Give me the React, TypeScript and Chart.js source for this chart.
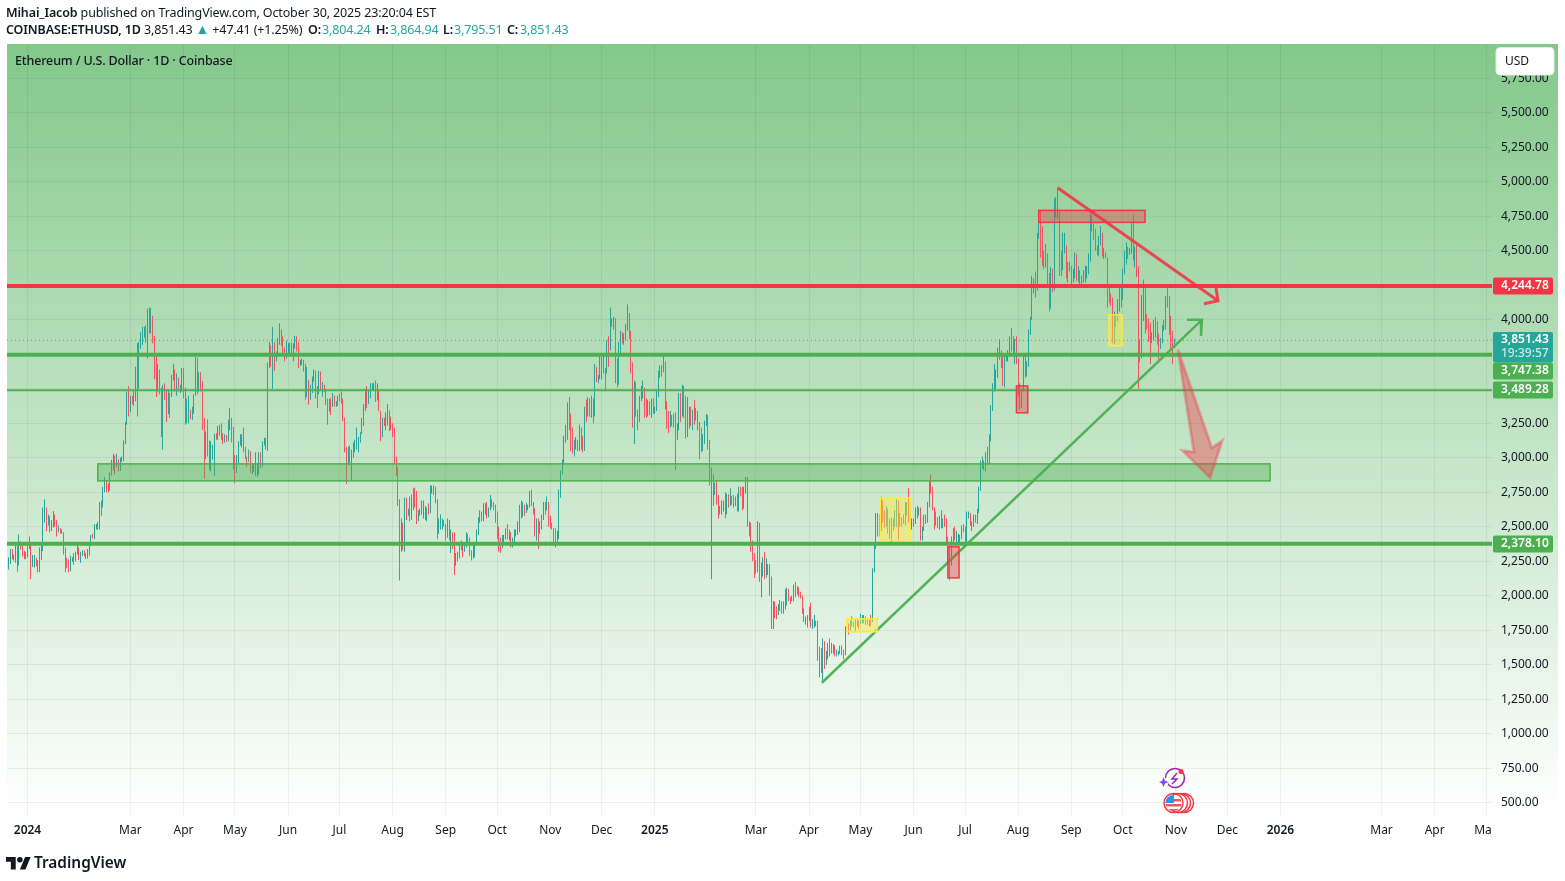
import React, { useEffect, useRef } from "react";
import { Chart, registerables } from "chart.js";

Chart.register(...registerables);

const FONT = '"Noto Sans", sans-serif';
const FIRST_DAY = -12;
const FIRST_OPEN = 2180;

// Daily closes, Dec 20 2023 to Oct 31 2025
const closes = [
  2200,2240,2325,2265,2270,2380,2230,2380,2345,2300,2290,2280,
  2350,2355,2210,2270,2270, 2240,2220,2330,2340,2585, 2620,2525,2575,2470,2510, 2585,2530,2465,2490,2470, 2455,2310,2240,2235,2220, 2265,2265,2255,2315,2345,2285,
  2305,2310,2300,2290,2300, 2375,2425,2420,2485,2500, 2505,2660,2645,2780,2825, 2800,2785,2880,2945,3015, 2970,2970,2925,2990,2990, 3115,3245,3385,3340,
  3435,3420,3490,3630,3550, 3815,3870,3885,3915,3880, 4065,3980,4005,3880,3740, 3520,3640,3510,3160,3515, 3490,3335,3460,3450,3590, 3590,3500,3560,3510,3510,3650,
  3500,3280,3310,3330,3310, 3350,3455,3690,3505,3545, 3500,3240,3010,3155,3105, 2985,3060,3065,3155,3150, 3200,3200,3140,3130,3155, 3130,3250,3260,3215,3010,
  2970,2990,3100,3120,3135, 3060,3005,2975,3035,2910, 2910,2930,2950,2880,3035, 2945,3095,3120,3070,3660, 3790,3740,3780,3725,3750, 3825,3890,3840,3765,3745,3760,
  3815,3780,3765,3810,3865, 3810,3680,3685,3705,3665, 3500,3560,3470,3480,3565, 3620,3510,3485,3560,3515, 3520,3490,3420,3360,3395, 3370,3450,3375,3380,3440,
  3430,3420,3290,3060,3000, 3065,3000,3015,3065,3100, 3100,3130,3180,3245,3360, 3440,3420,3480,3505,3520, 3540,3440,3480,3340,3175, 3275,3250,3270,3320,3280, 3230,
  3200,2990,2900,2690,2420, 2460,2340,2680,2600,2610, 2560,2720,2700,2660,2570, 2590,2610,2610,2640,2570, 2630,2620,2770,2770,2750, 2680,2460,2530,2530,2530, 2510,
  2430,2540,2420,2450,2370, 2220,2270,2300,2360,2390, 2340,2360,2440,2420,2320, 2300,2340,2370,2460,2560, 2610,2580,2650,2650,2580, 2630,2690,2680,2660,2600,
  2450,2360,2350,2410,2410, 2440,2420,2440,2370,2390, 2440,2470,2470,2630,2610, 2610,2605,2650,2650,2750, 2670,2620,2530,2540,2460, 2510,2560,2640,2630,2660, 2520,
  2515,2490,2460,2400,2425, 2720,2895,2960,3130,3180, 3370,3250,3190,3060,3110, 3130,3080,3210,3105,3070, 3355,3330,3395,3360,3415, 3325,3655,3585,3595,3705,
  3710,3640,3615,3835,3790, 3995,3995,4010,3715,3630, 3835,3885,3870,3870,3960, 3985,3890,3620,3410,3480, 3330,3280,3420,3490,3490, 3335,3330,3400,3350,3355, 3335,
  3355,3450,3610,3655,3640, 3690,3380,3325,3220,3290, 3285,3265,3140,3220,3450, 3310,3470,3310,3215,3280, 3325,3240,3340,3310,3320, 3235,3180,3080,3110,3250, 3300,
  3120,2870,2880,2730,2785, 2690,2620,2630,2660,2660, 2600,2735,2680,2725,2690, 2660,2690,2630,2770,2735, 2660,2770,2820,2510,2490, 2400,2310,2240,
  2220,2520,2150,2170,2240, 2140,2200,2200,2020,1860, 1920,1910,1860,1910,1940, 1890,1930,1930,2050,1980, 1970,1980,2080,2010,2060, 2010,2000,1900,1825,1825, 1820,
  1905,1795,1815,1815,1785, 1580,1555,1470,1665,1520, 1565,1645,1595,1590,1590, 1580,1585,1590,1610,1585, 1575,1755,1795,1770,1790, 1790,1795,1800,1800,1795,
  1840,1840,1835,1810,1820, 1815,1810,2190,2350,2580, 2510,2490,2680,2610,2550, 2610,2480,2490,2530,2525, 2550,2665,2525,2530,2550, 2560,2655,2680,2630,2530,2530,
  2530,2610,2590,2610,2415, 2480,2570,2540,2660,2815, 2770,2640,2575,2540,2535, 2545,2510,2525,2520,2405, 2290,2225,2410,2450,2415, 2420,2425,2435,2500,2485,
  2405,2570,2585,2510,2515, 2570,2540,2615,2770,2950, 2960,2940,2975,3010,3140, 3370,3480,3550,3590,3760, 3760,3745,3625,3710,3740, 3745,3875,3795,3790,3810, 3700,
  3490,3410,3490,3720,3610, 3680,3910,4010,4260,4270, 4225,4590,4750,4550,4440, 4420,4470,4310,4080,4360, 4220,4830,4775,4780,4380, 4370,4500,4510,4360,4370, 4390,
  4310,4325,4450,4300,4310, 4275,4305,4305,4310,4350, 4450,4715,4665,4605,4525, 4500,4590,4590,4470,4480, 4450,4200,4160,4150,3880, 4030,4010,4140,4220,4145,
  4350,4490,4515,4490,4515, 4690,4450,4525,4370,3835, 3750,4160,4250,3990,3980, 3890,3830,3890,3980,3890, 3880,3790,3855,3935,3950, 4160,4120,3980,3905,3804, 3851.43,
];

const highs = [
  2235,2280,2340,2340,2300,2310,2280,2445,2395,2365,2325,2320,
  2360,2430,2385,2295,2295, 2275,2260,2350,2370,2640, 2700,2640,2590,2575,2550, 2615,2590,2550,2510,2490, 2480,2460,2350,2275,2265, 2290,2280,2310,2320,2390,2350,
  2320,2330,2330,2310,2340, 2390,2440,2450,2520,2520, 2535,2680,2690,2790,2860, 2835,2815,2895,2985,3030, 3015,3030,2990,3000,3010, 3125,3260,3480,3520,
  3450,3450,3490,3660,3830, 3840,3910,3950,3950,3960, 4080,4090,4085,4030,3880, 3650,3680,3610,3500,3530, 3540,3490,3490,3470,3600, 3680,3640,3610,3580,3530,3650,
  3650,3510,3430,3450,3350, 3370,3460,3730,3725,3620, 3620,3555,3290,3190,3280, 3125,3120,3095,3175,3180, 3230,3240,3250,3180,3170, 3165,3275,3360,3290,3225,
  3020,3020,3120,3170,3170, 3220,3080,3010,3060,3050, 2950,2960,3040,2955,3040, 3040,3120,3145,3145,3690, 3840,3815,3950,3840,3770, 3870,3975,3930,3880,3800,3850,
  3830,3835,3835,3830,3885, 3880,3840,3710,3720,3710, 3680,3660,3560,3530,3590, 3640,3630,3520,3630,3625, 3550,3530,3500,3430,3430, 3430,3470,3450,3410,3450,
  3465,3480,3430,3290,3080, 3080,3090,3060,3110,3130, 3220,3150,3185,3290,3390, 3500,3520,3490,3540,3540, 3540,3560,3540,3490,3340, 3290,3290,3330,3390,3345, 3300,
  3250,3220,3010,2930,2700, 2560,2530,2710,2710,2630, 2720,2735,2780,2785,2760, 2620,2630,2690,2690,2650, 2640,2670,2800,2800,2800, 2790,2700,2560,2590,2560, 2550,
  2520,2560,2550,2480,2460, 2460,2310,2320,2370,2400, 2390,2380,2460,2450,2420, 2330,2390,2375,2480,2570, 2620,2600,2670,2670,2680, 2640,2730,2700,2680,2660,
  2610,2500,2420,2440,2440, 2490,2520,2480,2460,2420, 2480,2480,2540,2660,2690, 2680,2660,2675,2660,2760, 2770,2680,2635,2560,2560, 2540,2590,2680,2680,2720, 2680,
  2580,2530,2490,2490,2470, 2770,2910,2990,3160,3240, 3400,3440,3320,3220,3130, 3150,3130,3240,3220,3160, 3370,3420,3440,3430,3450, 3430,3680,3660,3600,3740,
  3730,3760,3650,3850,3880, 4090,4010,4020,4010,3720, 3840,3920,3910,3900,3970, 4110,4050,3920,3690,3560, 3550,3350,3450,3520,3560, 3510,3430,3420,3410,3430, 3430,
  3370,3490,3630,3670,3670, 3740,3700,3410,3340,3340, 3310,3320,3330,3250,3470, 3470,3530,3520,3450,3440, 3370,3370,3350,3420,3360, 3340,3260,3220,3170,3270, 3320,
  3310,3130,2930,2880,2820, 2830,2730,2650,2690,2690, 2750,2740,2720,2780,2720, 2730,2720,2740,2790,2790, 2790,2790,2860,2860,2540, 2530,2360,2290,
  2260,2540,2530,2240,2280, 2320,2270,2230,2230,2140, 1960,1960,1925,1940,1970, 1960,1960,2050,2060,2010, 1990,2000,2080,2100,2070, 2060,2030,2000,1910,1850, 1860,
  1920,1950,1830,1860,1820, 1820,1630,1620,1690,1670, 1600,1660,1690,1660,1650, 1640,1610,1600,1640,1640, 1610,1780,1810,1800,1820, 1850,1810,1830,1840,1820,
  1870,1860,1860,1850,1840, 1830,1860,2200,2390,2600, 2600,2590,2720,2690,2620, 2650,2630,2560,2570,2560, 2620,2700,2690,2600,2570, 2590,2680,2680,2780,2640,2560,
  2560,2640,2650,2640,2640, 2500,2590,2590,2680,2830, 2880,2790,2640,2610,2570, 2580,2620,2560,2590,2560, 2430,2350,2430,2490,2500, 2470,2450,2440,2510,2520,
  2500,2610,2610,2600,2540, 2590,2590,2630,2790,2980, 3010,2980,3040,3080,3170, 3380,3540,3680,3640,3800, 3860,3780,3740,3760,3760, 3780,3880,3940,3880,3860, 3880,
  3720,3540,3500,3750,3750, 3700,3930,4020,4320,4300, 4350,4630,4780,4790,4680, 4500,4550,4480,4340,4380, 4370,4880,4890,4950,4800, 4500,4630,4630,4540,4420, 4420,
  4390,4370,4490,4480,4390, 4360,4320,4360,4390,4390, 4480,4770,4760,4700,4660, 4540,4610,4680,4630,4520, 4490,4450,4230,4190,4160, 4060,4040,4150,4240,4230,
  4370,4500,4560,4530,4520, 4700,4760,4530,4540,4390, 3860,4180,4290,4210,4040, 4010,3980,3910,4000,4020, 3990,3900,3870,3960,4000, 4170,4250,4170,4030,3920, 3864.94,
];

const lows = [
  2150,2190,2230,2270,2255,2240,2175,2220,2335,2285,2265,2265,
  2280,2340,2120,2210,2205, 2215,2170,2170,2260,2325, 2530,2470,2510,2460,2490, 2495,2500,2430,2460,2450, 2450,2300,2170,2200,2170, 2180,2245,2225,2250,2300,2260,
  2240,2290,2285,2265,2270, 2290,2360,2415,2410,2480, 2480,2480,2580,2640,2750, 2750,2750,2760,2870,2910, 2880,2930,2900,2905,2970, 2975,3100,3240,3300,
  3330,3390,3375,3410,3300, 3500,3790,3820,3870,3835, 3720,3900,3900,3830,3570, 3440,3480,3460,3150,3060, 3420,3260,3315,3290,3440, 3560,3480,3450,3480,3470,3480,
  3430,3240,3250,3250,3280, 3275,3320,3450,3460,3480, 3480,3200,2850,2990,3010, 2915,2900,2985,2870,3130, 3130,3160,3130,3100,3110, 3115,3120,3200,3110,2915,
  2815,2890,2960,3090,3075, 3040,2990,2935,2970,2890, 2880,2895,2870,2860,2880, 2925,2935,3090,3060,3050, 3650,3660,3500,3630,3700, 3730,3820,3810,3750,3700,3720,
  3745,3755,3750,3700,3790, 3770,3650,3665,3675,3625, 3420,3440,3385,3420,3470, 3550,3430,3360,3460,3490, 3445,3475,3380,3240,3335, 3310,3370,3370,3370,3375,
  3410,3390,3265,3040,2810, 2960,2945,2840,3000,3040, 3060,3040,3110,3175,3230, 3340,3360,3390,3430,3490, 3485,3405,3415,3340,3120, 3150,3230,3200,3235,3195, 3200,
  3150,2960,2870,2650,2110, 2320,2330,2320,2550,2580, 2540,2550,2620,2640,2520, 2540,2580,2590,2560,2550, 2540,2590,2600,2740,2730, 2670,2410,2450,2480,2480, 2500,
  2400,2420,2400,2310,2340, 2150,2220,2250,2270,2330, 2280,2320,2350,2390,2290, 2255,2270,2280,2370,2440, 2530,2540,2540,2590,2560, 2570,2620,2640,2620,2530,
  2410,2320,2310,2350,2390, 2410,2410,2400,2350,2350, 2380,2430,2440,2460,2560, 2570,2580,2600,2620,2640, 2650,2590,2430,2400,2340, 2450,2480,2550,2590,2620, 2500,
  2490,2480,2360,2350,2390, 2410,2710,2880,2950,3110, 3130,3200,3050,3030,3010, 3060,3050,3050,3060,3040, 3050,3260,3300,3300,3290, 3250,3300,3550,3540,3570,
  3570,3610,3480,3610,3660, 3780,3950,3930,3540,3510, 3530,3760,3830,3820,3850, 3920,3860,3610,3220,3100, 3300,3200,3260,3410,3430, 3290,3290,3300,3310,3290, 3320,
  3320,3340,3440,3580,3590, 3620,3350,3210,3180,3220, 3230,3220,2910,3130,3200, 3260,3300,3290,3140,3150, 3210,3230,3200,3240,3270, 3200,2990,3040,3050,3100, 3230,
  3060,2800,2120,2650,2730, 2660,2560,2590,2590,2610, 2560,2590,2640,2650,2660, 2640,2650,2610,2610,2720, 2620,2630,2740,2500,2430, 2320,2250,2130,
  2160,2170,2100,1990,2140, 2120,2130,2150,2000,1760, 1760,1840,1830,1860,1890, 1870,1870,1900,1940,1960, 1940,1960,1960,1990,2030, 1990,1980,1870,1810,1790, 1770,
  1820,1770,1760,1770,1780, 1530,1410,1440,1385,1470, 1500,1540,1560,1580,1580, 1560,1560,1570,1580,1570, 1540,1570,1750,1720,1750, 1780,1770,1740,1780,1760,
  1820,1800,1800,1790,1790, 1780,1780,1810,2170,2340, 2430,2430,2470,2530,2490, 2500,2450,2410,2380,2470, 2500,2500,2400,2500,2500, 2520,2510,2580,2530,2490,2480,
  2500,2520,2560,2580,2400, 2400,2470,2520,2530,2640, 2740,2620,2480,2510,2490, 2480,2490,2490,2500,2370, 2240,2110,2220,2380,2400, 2380,2370,2380,2410,2460,
  2390,2380,2560,2510,2470, 2500,2530,2520,2600,2760, 2920,2910,2900,2950,2950, 3120,3340,3480,3500,3580, 3710,3650,3520,3510,3700, 3700,3730,3770,3750,3680, 3680,
  3450,3350,3360,3480,3580, 3590,3660,3890,4000,4190, 4160,4210,4590,4450,4390, 4370,4380,4230,4060,4100, 4200,4210,4740,4730,4320, 4320,4360,4480,4300,4270, 4350,
  4250,4270,4300,4280,4270, 4250,4240,4270,4270,4300, 4330,4420,4640,4580,4500, 4470,4460,4540,4460,4440, 4450,4090,4120,4100,3830, 3820,3950,3990,4060,4090,
  4150,4330,4400,4440,4470, 4480,4430,4380,4310,3500, 3690,3720,3990,3900,3930, 3840,3680,3840,3850,3870, 3820,3710,3790,3830,3920, 3930,4090,3890,3790,3680, 3795.51,
];

const xTickDays = [0,60,91,121,152,182,213,244,274,305,335,366,425,456,486,517,547,578,609,639,670,700,731,790,821,851];
const xTickLabels = ["2024","Mar","Apr","May","Jun","Jul","Aug","Sep","Oct","Nov","Dec","2025","Mar","Apr","May","Jun","Jul","Aug","Sep","Oct","Nov","Dec","2026","Mar","Apr","May"];
const hiddenPriceTicks = [3500, 3750, 4250];

const resistanceLevel = 4244.78;
const supportLevels = [3747.38, 2378.1];
const thinSupport = 3489.28;
const lastPrice = 3851.43;

const greenZone = [41, 725, 2956, 2833];
const redBoxes = [[590, 652, 4793, 4706], [577, 583.6, 3521, 3326], [537, 543.5, 2355, 2130]];
const yellowBoxes = [[478, 495.7, 1833, 1739], [497.5, 515, 2710, 2406], [631, 638.6, 4036, 3812]];

const redTrend = [[601, 4957], [694.6, 4138]];
const redHead = [[686.4, 4116], [694.6, 4138], [693.4, 4232]];
const greenTrend = [[463.5, 1370], [685.2, 4000]];
const greenHead = [[676.5, 4000], [685.2, 4000], [684.7, 3884]];
const bigArrow = [[671.2, 3783], [691, 3072], [697, 3123], [690, 2855], [674, 3051], [680.5, 3043]];

const priceTags = [
  { value: 4244.78, text: "4,244.78", color: "#f23645" },
  { value: 3747.38, text: "3,747.38", color: "#4caf50" },
  { value: 3489.28, text: "3,489.28", color: "#4caf50" },
  { value: 2378.1, text: "2,378.10", color: "#4caf50" },
];

const UP = "#26a69a";
const DOWN = "#f7525f";
const XMIN = -11.96;
const XMAX = 854.45;

const toLine = (pts: number[][]) => pts.map(([x, y]) => ({ x, y }));
const level = (v: number) => [{ x: XMIN, y: v }, { x: XMAX, y: v }];

function lineDs(data: any[], color: string, width: number, extra: any = {}) {
  return { type: "line", data, borderColor: color, borderWidth: width, pointRadius: 0, tension: 0, order: 1, clip: true, ...extra };
}

const overlayPlugin = {
  id: "overlay",
  beforeDraw(chart: any) {
    const c = chart.ctx;
    const a = chart.chartArea;
    const g = c.createLinearGradient(0, a.top, 0, a.bottom);
    g.addColorStop(0, "#83c88a");
    g.addColorStop(1, "#ffffff");
    c.fillStyle = "#ffffff";
    c.fillRect(0, 0, chart.width, chart.height);
    c.fillStyle = g;
    c.fillRect(a.left, a.top, 1558 - a.left, a.bottom - a.top);
  },
  beforeDatasetsDraw(chart: any) {
    // snap the one-pixel candles to whole device pixels so that they stay crisp
    [0, 1].forEach((i) => {
      chart.getDatasetMeta(i).data.forEach((el: any) => {
        el.x = Math.floor(el.x) + 0.5;
      });
    });
  },
  afterDatasetsDraw(chart: any) {
    const c = chart.ctx;
    const X = chart.scales.x;
    const Y = chart.scales.y;
    const box = (b: number[], fill: string, stroke: string, lw: number) => {
      const x0 = X.getPixelForValue(b[0]);
      const x1 = X.getPixelForValue(b[1]);
      const y0 = Y.getPixelForValue(b[2]);
      const y1 = Y.getPixelForValue(b[3]);
      c.fillStyle = fill;
      c.fillRect(x0, y0, x1 - x0, y1 - y0);
      c.strokeStyle = stroke;
      c.lineWidth = lw;
      c.strokeRect(x0, y0, x1 - x0, y1 - y0);
    };
    box(greenZone, "rgba(76,175,80,0.4)", "#4caf50", 1.5);
    redBoxes.forEach((b) => box(b, "rgba(242,54,69,0.4)", "#f23645", 1.5));
    yellowBoxes.forEach((b) => box(b, "rgba(255,235,59,0.45)", "#ffeb3b", 1.5));

    c.beginPath();
    bigArrow.forEach(([d, p], i) => {
      const px = X.getPixelForValue(d);
      const py = Y.getPixelForValue(p);
      if (i === 0) c.moveTo(px, py);
      else c.lineTo(px, py);
    });
    c.closePath();
    c.fillStyle = "rgba(242,54,69,0.4)";
    c.fill();
    c.strokeStyle = "rgba(242,54,69,0.35)";
    c.lineWidth = 3;
    c.lineJoin = "miter";
    c.stroke();
  },
  afterDraw(chart: any) {
    const c = chart.ctx;
    const Y = chart.scales.y;
    const a = chart.chartArea;
    // clip the last axis label at the pane edge
    c.fillStyle = "#ffffff";
    c.fillRect(a.right, a.bottom, chart.width - a.right, 40);

    c.textBaseline = "middle";
    c.textAlign = "left";
    const tag = (y: number, h: number, color: string) => {
      c.fillStyle = color;
      c.beginPath();
      c.roundRect(1493, y, 60, h, 2);
      c.fill();
    };
    priceTags.forEach((t) => {
      const y = Y.getPixelForValue(t.value);
      const top = t.value === 3747.38 ? 362.5 : Math.round(y) - 8.5;
      tag(top, 17, t.color);
      c.fillStyle = "#ffffff";
      c.font = `600 12px ${FONT}`;
      c.fillText(t.text, 1501, top + 8.5);
    });
    tag(332, 30.5, "#26a69a");
    c.fillStyle = "#ffffff";
    c.font = `600 12px ${FONT}`;
    c.fillText("3,851.43", 1501, 340);
    c.fillStyle = "rgba(255,255,255,0.75)";
    c.font = `500 12px ${FONT}`;
    c.fillText("19:39:57", 1501, 354);

    // currency button
    c.fillStyle = "#ffffff";
    c.strokeStyle = "rgba(230,235,230,1)";
    c.lineWidth = 1;
    c.beginPath();
    c.roundRect(1496, 47.5, 58, 27.5, 4);
    c.fill();
    c.stroke();
    c.fillStyle = "#131722";
    c.font = `12px ${FONT}`;
    c.fillText("USD", 1505, 62);

    // event markers
    c.strokeStyle = "#9c27b0";
    c.lineWidth = 1.6;
    c.beginPath();
    c.arc(1175, 778, 9.5, 0, Math.PI * 2);
    c.stroke();
    c.fillStyle = "#ffffff";
    c.fillRect(1163, 778, 5, 7);
    c.strokeStyle = "#9c27b0";
    c.lineWidth = 1.5;
    c.beginPath();
    c.moveTo(1177, 773);
    c.lineTo(1172, 779);
    c.lineTo(1177, 779);
    c.lineTo(1172, 784);
    c.stroke();
    c.fillStyle = "#7c4dff";
    c.beginPath();
    c.moveTo(1163.5, 777);
    c.lineTo(1165, 781);
    c.lineTo(1169, 782);
    c.lineTo(1165, 783.5);
    c.lineTo(1163.5, 787);
    c.lineTo(1162, 783.5);
    c.lineTo(1159, 782);
    c.lineTo(1162, 781);
    c.closePath();
    c.fill();
    c.fillStyle = "#f23645";
    c.beginPath();
    c.arc(1181, 771.5, 2.5, 0, Math.PI * 2);
    c.fill();
    [1184, 1181, 1178].forEach((cx) => {
      c.fillStyle = "#ffffff";
      c.strokeStyle = "#f23645";
      c.lineWidth = 1.5;
      c.beginPath();
      c.arc(cx, 803, 9.5, 0, Math.PI * 2);
      c.fill();
      c.stroke();
    });
    c.save();
    c.beginPath();
    c.arc(1173.5, 803, 8, 0, Math.PI * 2);
    c.clip();
    c.fillStyle = "#ffffff";
    c.fillRect(1164, 794, 20, 18);
    c.fillStyle = "#f7525f";
    c.fillRect(1164, 799, 20, 2.5);
    c.fillRect(1164, 804, 20, 2.5);
    c.fillRect(1164, 809, 20, 2.5);
    c.fillStyle = "#2196f3";
    c.fillRect(1164, 794, 10, 9);
    c.restore();
    c.strokeStyle = "#f23645";
    c.lineWidth = 1.5;
    c.beginPath();
    c.arc(1173.5, 803, 9.5, 0, Math.PI * 2);
    c.stroke();
  },
};

export default function App() {
  const ref = useRef<HTMLCanvasElement | null>(null);

  useEffect(() => {
    document.body.style.margin = "0";
    const wicks: any[] = [];
    const bodies: any[] = [];
    const colors: string[] = [];
    closes.forEach((close, i) => {
      const open = i === 0 ? FIRST_OPEN : closes[i - 1];
      const x = FIRST_DAY + i;
      wicks.push({ x, y: [lows[i], highs[i]] });
      bodies.push({ x, y: [Math.min(open, close), Math.max(open, close)] });
      colors.push(close >= open ? UP : DOWN);
    });

    const chart = new Chart(ref.current as HTMLCanvasElement, {
      type: "bar",
      data: {
        datasets: [
          { data: wicks, backgroundColor: colors, barThickness: 1, grouped: false, inflateAmount: 0, borderWidth: 0, order: 11 },
          { data: bodies, backgroundColor: colors, barThickness: 1, grouped: false, inflateAmount: 0, borderWidth: 0, order: 10 },
          lineDs(level(lastPrice), "#26a69a", 1, { borderDash: [1, 3], order: 5 }),
          lineDs(level(resistanceLevel), "#f23645", 4),
          lineDs(level(supportLevels[0]), "#4caf50", 4),
          lineDs(level(supportLevels[1]), "#4caf50", 4),
          lineDs(level(thinSupport), "#4caf50", 2),
          lineDs(toLine(redTrend), "rgba(242,54,69,0.9)", 3),
          lineDs(toLine(redHead), "rgba(242,54,69,0.9)", 3),
          lineDs(toLine(greenTrend), "rgba(76,175,80,0.95)", 2.5),
          lineDs(toLine(greenHead), "rgba(76,175,80,0.95)", 2.5),
        ] as any,
      },
      plugins: [overlayPlugin as any],
      options: {
        animation: false,
        responsive: false,
        devicePixelRatio: 1,
        layout: { padding: { left: 7, right: 7, top: 44, bottom: 36 } },
        plugins: { legend: { display: false }, tooltip: { enabled: false }, title: { display: false } },
        scales: {
          x: {
            type: "linear",
            min: XMIN,
            max: XMAX,
            offset: false,
            afterBuildTicks: (axis: any) => {
              axis.ticks = xTickDays.map((value) => ({ value }));
            },
            afterFit: (axis: any) => {
              axis.height = 30;
            },
            grid: { offset: false, color: "rgba(42,46,57,0.07)", drawTicks: false },
            border: { display: false },
            ticks: {
              autoSkip: false,
              maxRotation: 0,
              padding: 8,
              color: "#131722",
              font: (ctx: any) => {
                const label = xTickLabels[xTickDays.indexOf(ctx.tick?.value)] || "";
                return { family: "Noto Sans", size: 12, weight: /^\d/.test(label) ? "600" : "400" };
              },
              callback: (v: any) => xTickLabels[xTickDays.indexOf(v)] ?? "",
            },
          },
          y: {
            type: "linear",
            position: "right",
            min: 411.6,
            max: 5998.6,
            afterFit: (axis: any) => {
              axis.width = 66;
            },
            grid: { color: "rgba(42,46,57,0.07)", drawTicks: false },
            border: { display: false },
            ticks: {
              stepSize: 250,
              includeBounds: false,
              padding: 9,
              align: "center",
              crossAlign: "near",
              color: "#131722",
              font: { family: "Noto Sans", size: 12 },
              callback: (v: any) =>
                hiddenPriceTicks.includes(v)
                  ? ""
                  : Number(v).toLocaleString("en-US", { minimumFractionDigits: 2, maximumFractionDigits: 2 }),
            },
          },
        },
      } as any,
    });
    return () => chart.destroy();
  }, []);

  const row: React.CSSProperties = { position: "absolute", left: 6, whiteSpace: "nowrap", fontFamily: FONT, fontSize: 12.5, letterSpacing: "-0.14px", lineHeight: "17px", color: "#131722" };
  const teal = { color: "#26a69a" };
  const med = { fontWeight: 600 };
  const at = (left: number, extra: React.CSSProperties = {}): React.CSSProperties => ({ position: "absolute", left: left - 6, top: 0, ...extra });

  return (
    <div style={{ position: "fixed", left: 0, top: 0, width: 1565, height: 881, overflow: "hidden", background: "#fff" }}>
      <canvas ref={ref} width={1565} height={881} style={{ position: "absolute", left: 0, top: 0, width: 1565, height: 881 }} />
      <div style={{ ...row, top: 4 }}>
        <span style={med}>Mihai_Iacob</span> published on TradingView.com, October 30, 2025 23:20:04 EST
      </div>
      <div style={{ ...row, top: 21 }}>
        <span style={med}>COINBASE:ETHUSD, 1D</span> 3,851.43 <span style={{ ...teal, fontSize: 14, lineHeight: "14px" }}>▲</span> +47.41 (+1.25%)
        <span style={at(308, med)}>O:</span><span style={at(322, teal)}>3,804.24</span>
        <span style={at(376, med)}>H:</span><span style={at(390, teal)}>3,864.94</span>
        <span style={at(443, med)}>L:</span><span style={at(454, teal)}>3,795.51</span>
        <span style={at(507, med)}>C:</span><span style={at(520, teal)}>3,851.43</span>
      </div>
      <div style={{ ...row, left: 15, top: 52, fontWeight: 500 }}>Ethereum / U.S. Dollar · 1D · Coinbase</div>
      <svg style={{ position: "absolute", left: 6, top: 855 }} width="25" height="15" viewBox="0 0 36 20">
        <path d="M14 20H7V9H0V2h14v18zM28 20h-8l7.5-18h8L28 20z" fill="#131722" />
        <circle cx="20" cy="6" r="4" fill="#131722" />
      </svg>
      <div style={{ position: "absolute", left: 34, top: 852, fontFamily: FONT, fontWeight: 600, fontSize: 15.4, lineHeight: "21px", color: "#131722" }}>TradingView</div>
    </div>
  );
}
